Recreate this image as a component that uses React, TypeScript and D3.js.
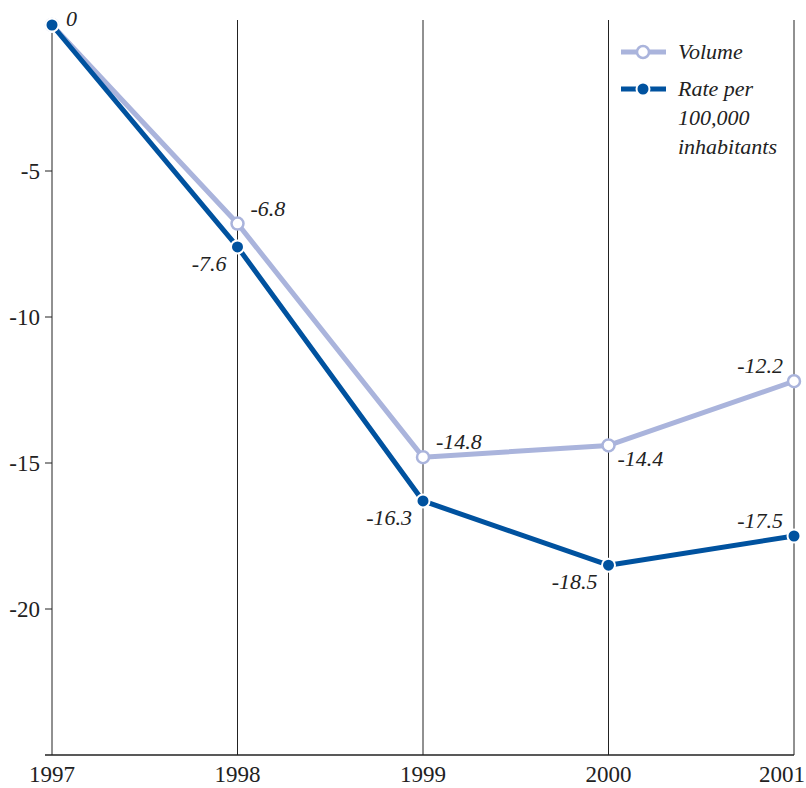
import React from "react";
import * as d3 from "d3";

const years = [1997, 1998, 1999, 2000, 2001];
const volume = [0, -6.8, -14.8, -14.4, -12.2];
const rate = [0, -7.6, -16.3, -18.5, -17.5];
const yTicks = [-5, -10, -15, -20];
const volumeLabelPos = ["none", "ru", "ru", "rb", "lu"];
const rateLabelPos = ["r0", "lb", "lb", "lb", "lu"];

const W = 806;
const H = 788;
const LIGHT = "#aab4dc";
const DARK = "#00529f";
const FONT = "Liberation Serif";

export default function App() {
  const x = d3.scalePoint<number>().domain(years).range([52, 794]);
  const y = d3.scaleLinear().domain([0, -25]).range([25, 755]);
  const line = d3
    .line<number>()
    .x((_, i) => x(years[i]) as number)
    .y((d) => y(d));

  const labelProps = (pos: string, px: number, py: number) => {
    switch (pos) {
      case "r0":
        return { x: px + 14, y: py + 1, anchor: "start" };
      case "ru":
        return { x: px + 13, y: py - 8, anchor: "start" };
      case "rb":
        return { x: px + 9, y: py + 21, anchor: "start" };
      case "lb":
        return { x: px - 11, y: py + 24, anchor: "end" };
      case "lu":
      default:
        return { x: px - 11, y: py - 8, anchor: "end" };
    }
  };

  const textStyle = { fontFamily: FONT } as React.CSSProperties;
  const italic = { fontFamily: FONT, fontStyle: "italic" } as React.CSSProperties;

  const renderLabels = (vals: number[], poss: string[]) =>
    vals.map((v, i) => {
      if (poss[i] === "none") return null;
      const px = x(years[i]) as number;
      const py = y(v);
      const p = labelProps(poss[i], px, py);
      return (
        <text
          key={i}
          x={p.x}
          y={p.y}
          textAnchor={p.anchor as any}
          style={italic}
          fontSize={22}
          fill="#222"
        >
          {v === 0 ? "0" : v.toFixed(1)}
        </text>
      );
    });

  return (
    <svg
      width={W}
      height={H}
      style={{ position: "absolute", left: 0, top: 0, background: "#fff", fontFamily: FONT }}
    >
      <rect x={0} y={0} width={W} height={H} fill="#fff" />
      {years.map((yr) => (
        <line
          key={yr}
          x1={x(yr)}
          x2={x(yr)}
          y1={yr === 1997 ? 33 : 20}
          y2={755}
          stroke="#222"
          strokeWidth={1}
        />
      ))}
      <line x1={45} x2={794} y1={755} y2={755} stroke="#222" strokeWidth={1.3} />
      {yTicks.map((t) => (
        <g key={t}>
          <line x1={45} x2={52} y1={y(t)} y2={y(t)} stroke="#222" strokeWidth={1} />
          <text x={40} y={y(t) + 8} textAnchor="end" fontSize={23} fill="#222" style={textStyle}>
            {t}
          </text>
        </g>
      ))}
      {years.map((yr, i) => {
        const last = i === years.length - 1;
        return (
          <text
            key={yr}
            x={last ? 805 : (x(yr) as number)}
            y={782}
            textAnchor={last ? "end" : "middle"}
            fontSize={23}
            fill="#222"
            style={textStyle}
          >
            {yr}
          </text>
        );
      })}
      <path d={line(volume) || ""} fill="none" stroke={LIGHT} strokeWidth={5} strokeLinejoin="round" />
      <path d={line(rate) || ""} fill="none" stroke={DARK} strokeWidth={5} strokeLinejoin="round" />
      {volume.map((v, i) => (
        <circle key={"v" + i} cx={x(years[i])} cy={y(v)} r={6} fill="#fff" stroke={LIGHT} strokeWidth={2.5} />
      ))}
      {rate.map((v, i) => (
        <circle key={"r" + i} cx={x(years[i])} cy={y(v)} r={6.5} fill={DARK} stroke="#fff" strokeWidth={2} />
      ))}
      {renderLabels(volume, volumeLabelPos)}
      {renderLabels(rate, rateLabelPos)}
      <g>
        <rect x={616} y={36} width={175} height={130} fill="#fff" />
        <line x1={621} x2={666} y1={52} y2={52} stroke={LIGHT} strokeWidth={5} />
        <circle cx={643} cy={52} r={6} fill="#fff" stroke={LIGHT} strokeWidth={2.5} />
        <text x={678} y={59} style={italic} fontSize={22} fill="#222">Volume</text>
        <line x1={621} x2={666} y1={89} y2={89} stroke={DARK} strokeWidth={5} />
        <circle cx={643} cy={89} r={6.5} fill={DARK} stroke="#fff" strokeWidth={2} />
        <text x={678} y={96} style={italic} fontSize={22} fill="#222">Rate per</text>
        <text x={678} y={125} style={italic} fontSize={22} fill="#222">100,000</text>
        <text x={678} y={154} style={italic} fontSize={22} fill="#222">inhabitants</text>
      </g>
    </svg>
  );
}
